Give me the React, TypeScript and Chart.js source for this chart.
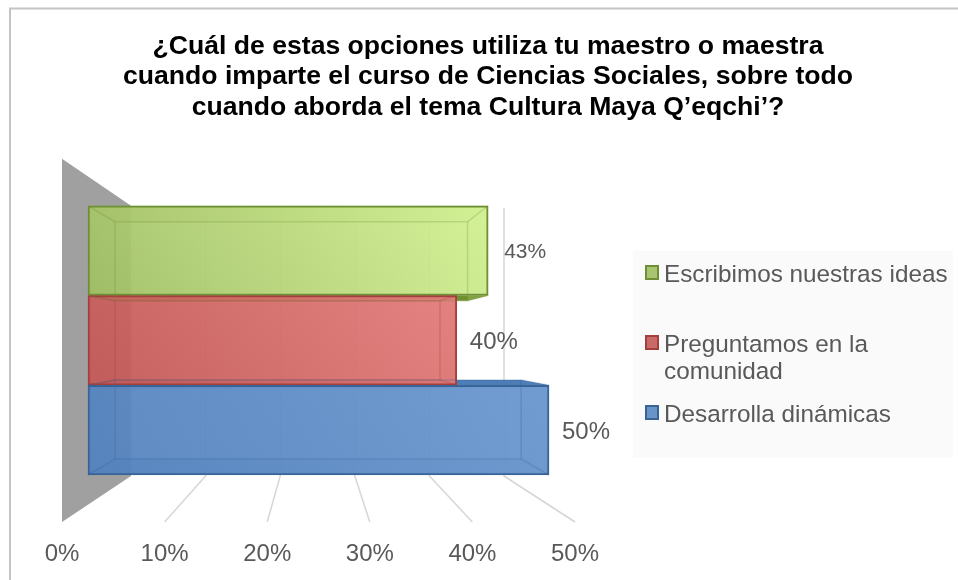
import React, { useEffect, useRef } from "react";
import { Chart, registerables } from "chart.js";

Chart.register(...registerables);

const titleLines = [
  "¿Cuál de estas opciones utiliza tu maestro o maestra",
  "cuando imparte el curso de Ciencias Sociales, sobre todo",
  "cuando aborda el tema Cultura Maya Q’eqchi’?",
];
const categories = ["Escribimos nuestras ideas", "Preguntamos en la comunidad", "Desarrolla dinámicas"];
const percentValues = [43.4, 40, 50];
const axisTicks = [0, 10, 20, 30, 40, 50];

const FONT = '"Liberation Sans", Arial, sans-serif';
const TEXT = "#595959";
const rgb = [
  { r: 155, g: 187, b: 89, line: "#6f8f35" },
  { r: 192, g: 80, b: 77, line: "#a33f3c" },
  { r: 79, g: 129, b: 189, line: "#386497" },
];
const gradientStops = [
  ["rgba(146,176,88,0.92)", "rgba(212,243,148,0.92)"],
  ["rgba(190,84,82,0.92)", "rgba(232,132,130,0.95)"],
  ["rgba(84,130,190,0.92)", "rgba(114,158,212,0.95)"],
];
const legendRows = [275, 345, 415];

const geometry = (chart: any) => {
  const area = chart.chartArea;
  const x = chart.scales.x;
  const barX = chart.scales.barX;
  const x0 = barX.getPixelForValue(0);
  const k = 0.881;
  const wallFront = x.getPixelForValue(0);
  const wallBack = wallFront + 69;
  const gridK = 373 / (x.getPixelForValue(50) - wallFront);
  return {
    area, x, barX, x0, wallFront, wallBack,
    backBarX: (v: number) => x0 + 27 + (v - x0) * k,
    backBarY: (v: number) => area.top + 16 + (v - area.top) * k,
    gridBack: (v: number) => wallBack + (x.getPixelForValue(v) - wallFront) * gridK,
  };
};

const poly = (ctx: CanvasRenderingContext2D, pts: number[][], fill: string) => {
  ctx.beginPath();
  pts.forEach((p, i) => (i ? ctx.lineTo(p[0], p[1]) : ctx.moveTo(p[0], p[1])));
  ctx.closePath();
  ctx.fillStyle = fill;
  ctx.fill();
};

const scene = {
  id: "scene",
  beforeDraw(chart: any) {
    const { ctx } = chart;
    ctx.save();
    ctx.fillStyle = "#fff";
    ctx.fillRect(0, 0, chart.width, chart.height);
    // outer chart frame
    ctx.strokeStyle = "#c4c4c4";
    ctx.lineWidth = 2;
    ctx.beginPath();
    ctx.moveTo(10, 580);
    ctx.lineTo(10, 8.5);
    ctx.lineTo(958, 8.5);
    ctx.stroke();
    // legend panel
    ctx.fillStyle = "#fafafa";
    ctx.fillRect(633, 251, 320, 207);
    ctx.restore();
  },
  beforeDatasetsDraw(chart: any) {
    const { ctx } = chart;
    const g = geometry(chart);
    const top = g.area.top;
    const bottom = g.area.bottom;
    const floorY = bottom + 47;
    ctx.save();
    // side wall
    poly(ctx, [[g.wallFront, top - 47], [g.wallBack, top], [g.wallBack, bottom + 1], [g.wallFront, floorY]], "#a0a0a0");
    // gridlines: back wall and floor
    ctx.strokeStyle = "#d6d6d6";
    ctx.lineWidth = 1.5;
    axisTicks.slice(1).forEach((t) => {
      const b = g.gridBack(t);
      ctx.beginPath();
      ctx.moveTo(b, top + 2);
      ctx.lineTo(b, bottom + 1);
      ctx.lineTo(g.x.getPixelForValue(t), floorY);
      ctx.stroke();
    });
    // bar depth faces, lowest bar first
    const meta = chart.getDatasetMeta(0);
    for (let i = meta.data.length - 1; i >= 0; i--) {
      const el = meta.data[i];
      const c = rgb[i];
      const l = el.base, r = el.x, t = el.y - el.height / 2, b = el.y + el.height / 2;
      const bl = g.backBarX(l), br = g.backBarX(r), bt = g.backBarY(t), bb = g.backBarY(b);
      const col = (a: number, d = 0) => `rgba(${c.r - d},${c.g - d},${c.b - d},${a})`;
      poly(ctx, [[bl, bt], [br, bt], [br, bb], [bl, bb]], col(0.25));
      poly(ctx, [[l, t], [r, t], [br, bt], [bl, bt]], col(i === 2 ? 0.95 : 0.55, 10));
      poly(ctx, [[l, b], [r, b], [br, bb], [bl, bb]], col(i === 0 ? 0.95 : 0.5, i === 0 ? 50 : 25));
      poly(ctx, [[l, t], [bl, bt], [bl, bb], [l, b]], col(0.35));
      poly(ctx, [[r, t], [br, bt], [br, bb], [r, b]], col(0.45));
    }
    ctx.restore();
  },
  afterDatasetsDraw(chart: any) {
    const { ctx } = chart;
    const g = geometry(chart);
    const meta = chart.getDatasetMeta(0);
    ctx.save();
    // inner edges of the bar boxes, seen through the translucent front faces
    meta.data.forEach((el: any, i: number) => {
      const l = el.base, r = el.x, t = el.y - el.height / 2, b = el.y + el.height / 2;
      const bl = g.backBarX(l), br = g.backBarX(r), bt = g.backBarY(t), bb = g.backBarY(b);
      ctx.strokeStyle = rgb[i].line;
      ctx.globalAlpha = 0.26;
      ctx.lineWidth = 1.5;
      ctx.strokeRect(bl, bt, br - bl, bb - bt);
      [[l, t, bl, bt], [r, t, br, bt], [r, b, br, bb], [l, b, bl, bb]].forEach((s) => {
        ctx.beginPath();
        ctx.moveTo(s[0], s[1]);
        ctx.lineTo(s[2], s[3]);
        ctx.stroke();
      });
      ctx.globalAlpha = 1;
    });
    ctx.fillStyle = TEXT;
    ctx.textAlign = "center";
    ctx.textBaseline = "middle";
    meta.data.forEach((el: any, i: number) => {
      ctx.font = `${i === 0 ? 21 : 24}px ${FONT}`;
      ctx.fillText(`${Math.round(percentValues[i])}%`, el.x + 37, el.y + 2);
    });
    // legend
    categories.forEach((label, i) => {
      const y = legendRows[i];
      const c = rgb[i];
      ctx.fillStyle = `rgb(${c.r},${c.g},${c.b})`;
      ctx.globalAlpha = 0.85;
      ctx.fillRect(646, y - 9, 12, 13);
      ctx.globalAlpha = 1;
      ctx.strokeStyle = c.line;
      ctx.lineWidth = 2;
      ctx.strokeRect(646, y - 9, 12, 13);
      ctx.fillStyle = TEXT;
      ctx.textAlign = "left";
      ctx.font = `24.3px ${FONT}`;
      const lines: string[] = [];
      let cur = "";
      label.split(" ").forEach((w) => {
        const next = cur ? `${cur} ${w}` : w;
        if (ctx.measureText(next).width > 290 && cur) {
          lines.push(cur);
          cur = w;
        } else cur = next;
      });
      lines.push(cur);
      lines.forEach((line, j) => ctx.fillText(line, 664, y + j * 27));
    });
    ctx.restore();
  },
};

export default function App() {
  const ref = useRef<HTMLCanvasElement>(null);
  useEffect(() => {
    const chart = new Chart(ref.current as HTMLCanvasElement, {
      type: "bar",
      plugins: [scene],
      data: {
        labels: categories,
        datasets: [
          {
            data: percentValues,
            xAxisID: "barX",
            yAxisID: "y",
            barPercentage: 1,
            categoryPercentage: 1,
            borderWidth: 2,
            borderSkipped: false,
            clip: false,
            borderColor: rgb.map((c) => c.line),
            backgroundColor: (c: any) => {
              const { chart: ch, dataIndex } = c;
              if (!ch.chartArea || dataIndex === undefined) return "transparent";
              const bx = ch.scales.barX;
              const g = ch.ctx.createLinearGradient(
                bx.getPixelForValue(0), ch.chartArea.bottom,
                bx.getPixelForValue(percentValues[dataIndex]), ch.chartArea.top
              );
              g.addColorStop(0, gradientStops[dataIndex][0]);
              g.addColorStop(1, gradientStops[dataIndex][1]);
              return g;
            },
          },
        ],
      },
      options: {
        indexAxis: "y",
        animation: false,
        responsive: false,
        layout: { padding: { left: 18, right: 0, top: 0, bottom: 0 } },
        plugins: {
          legend: { display: false },
          tooltip: { enabled: false },
          title: {
            display: true,
            text: titleLines,
            color: "#000",
            font: { family: FONT, size: 26.6, weight: "bold", lineHeight: 1.15 },
            padding: { top: 31, bottom: 83 },
          },
        },
        scales: {
          x: {
            type: "linear",
            min: 0,
            max: 50,
            position: "bottom",
            grid: { display: false },
            border: { display: false },
            ticks: {
              stepSize: 10,
              padding: 57,
              color: TEXT,
              maxRotation: 0,
              font: { family: FONT, size: 24 },
              callback: (v: any) => `${v}%`,
            },
            afterFit: (s: any) => { s.height = 105; s.paddingLeft = 0; s.paddingRight = 0; },
          },
          barX: {
            type: "linear",
            axis: "x",
            display: false,
            min: -2.82,
            max: 52.82,
          },
          y: {
            type: "category",
            position: "left",
            grid: { display: false },
            border: { display: false },
            ticks: { display: false },
            afterFit: (s: any) => { s.width = 44; s.paddingTop = 0; s.paddingBottom = 0; },
          },
          spacer: {
            type: "linear",
            axis: "y",
            position: "right",
            grid: { display: false },
            border: { display: false },
            ticks: { display: false },
            afterFit: (s: any) => { s.width = 383; s.paddingTop = 0; s.paddingBottom = 0; },
          },
        },
      } as any,
    } as any);
    return () => chart.destroy();
  }, []);
  return (
    <div style={{ position: "absolute", left: 0, top: 0, width: 958, height: 580 }}>
      <canvas ref={ref} width={958} height={580} style={{ display: "block" }} />
    </div>
  );
}
